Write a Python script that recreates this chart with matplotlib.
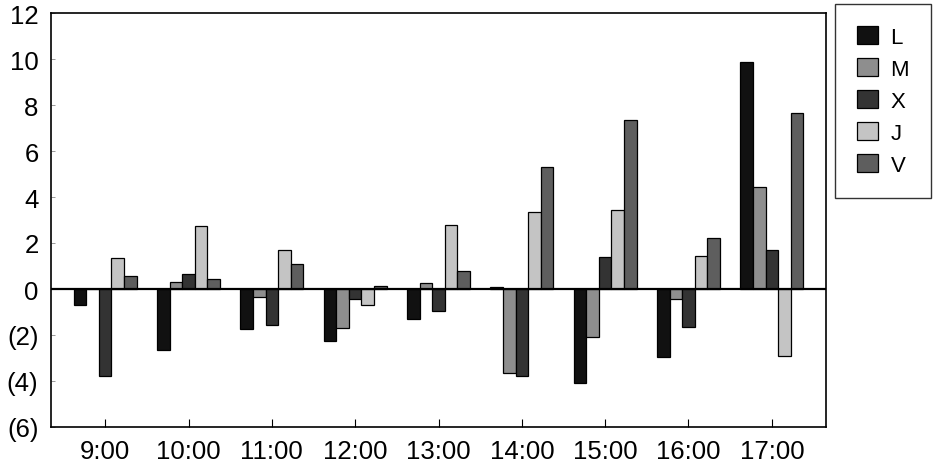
import numpy as np
import matplotlib
matplotlib.use("Agg")
from matplotlib import pyplot as plt
from matplotlib.ticker import FuncFormatter, MultipleLocator

plt.rcParams['font.family'] = ['Liberation Sans', 'DejaVu Sans']

# Hourly values per weekday series
hours = ["9:00", "10:00", "11:00", "12:00", "13:00", "14:00", "15:00", "16:00", "17:00"]
series_names = ["L", "M", "X", "J", "V"]
L = [-0.7, -2.65, -1.75, -2.25, -1.3, 0.1, -4.1, -2.95, 9.85]
M = [0.0, 0.3, -0.35, -1.7, 0.25, -3.65, -2.1, -0.45, 4.45]
X = [-3.8, 0.65, -1.55, -0.45, -0.95, -3.8, 1.4, -1.65, 1.7]
J = [1.35, 2.75, 1.7, -0.7, 2.8, 3.35, 3.45, 1.45, -2.9]
V = [0.55, 0.45, 1.1, 0.15, 0.8, 5.3, 7.35, 2.2, 7.65]

colors = ["#111111", "#8e8e8e", "#333333", "#c4c4c4", "#5e5e5e"]

fig = plt.figure(figsize=(9.34, 4.64), dpi=100)
ax = fig.add_axes([51 / 934, 1 - 428 / 464, 775 / 934, 414 / 464])

x = np.arange(len(hours))
width = 0.151
for i, (name, vals) in enumerate(zip(series_names, [L, M, X, J, V])):
    ax.bar(x + (i - 2) * width, vals, width, color=colors[i],
           edgecolor="black", linewidth=0.9, label=name, zorder=3)

ax.axhline(0, color="black", linewidth=1.6, zorder=4)

ax.set_xlim(-0.65, 8.65)
ax.set_ylim(-6, 12)
ax.yaxis.set_major_locator(MultipleLocator(2))
ax.yaxis.set_major_formatter(FuncFormatter(
    lambda v, pos: f"({abs(int(round(v)))})" if v < 0 else f"{int(round(v))}"))
ax.set_xticks(x)
ax.set_xticklabels(hours)

ax.tick_params(axis="x", direction="in", length=6, width=0.8, pad=9, labelsize=18.5)
ax.tick_params(axis="y", direction="in", length=3, width=0.6, pad=9, labelsize=18.5,
               color="#888888")
for side in ax.spines.values():
    side.set_linewidth(1.2)
    side.set_color("black")

fig.legend(loc="upper left", bbox_to_anchor=(835 / 934, 1 - 5 / 464),
           borderaxespad=0, frameon=True, fancybox=False, edgecolor="black",
           fontsize=16, handlelength=0.95, handleheight=0.85, handletextpad=0.55,
           labelspacing=0.47, borderpad=1.0)
fig.legends[0].get_frame().set_linewidth(1.0)

fig.savefig("out.png", dpi=100)
